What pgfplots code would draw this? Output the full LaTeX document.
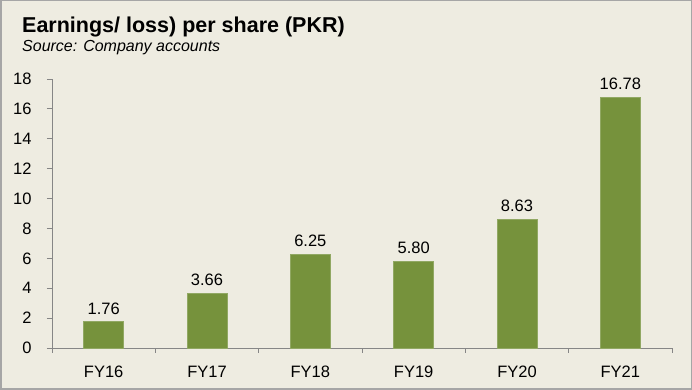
\documentclass[border=0pt]{standalone}
\usepackage{pgfplots}
\pgfplotsset{compat=1.18}
\usepackage{fontspec}
\setmainfont{Liberation Sans}
\definecolor{bg}{HTML}{EEECE1}
\definecolor{olive}{HTML}{76923C}
\definecolor{axgray}{HTML}{868686}
\begin{document}
\begin{tikzpicture}
\useasboundingbox (0pt,0pt) rectangle (692pt,390pt);
\fill[bg] (0pt,0pt) rectangle (692pt,390pt);
\draw[gray!70,line width=1.5pt] (0.75pt,0.75pt) rectangle (691.25pt,389.25pt);
\node[anchor=base west,inner sep=0,font=\fontsize{21.5}{24}\selectfont\bfseries] at (22pt,357pt) {Earnings/ loss) per share (PKR)};
\node[anchor=base west,inner sep=0,font=\fontsize{16}{18}\selectfont\itshape] at (22pt,338pt) {Source: Company accounts};
\begin{axis}[
  at={(52pt,42pt)}, anchor=south west,
  scale only axis, width=620pt, height=269pt,
  xmin=-0.5, xmax=5.5, ymin=0, ymax=18,
  axis x line*=bottom, axis y line*=left,
  axis line style={axgray, line width=0.8pt},
  ytick={0,2,...,18},
  xtick={0,...,5},
  xticklabels={FY16,FY17,FY18,FY19,FY20,FY21},
  minor xtick={-0.5,0.5,...,5.5},
  major x tick style={draw=none},
  minor tick length=5pt,
  major tick length=5pt,
  tick align=outside,
  tick style={axgray, line width=0.8pt},
  every tick label/.append style={font=\fontsize{16.5}{18}\selectfont},
  /pgf/number format/assume math mode=true,
  yticklabel style={anchor=east, xshift=-12pt},
  xticklabel style={anchor=base, yshift=-25pt},
  ybar, bar width=40pt,
  nodes near coords,
  nodes near coords style={font=\fontsize{16.5}{18}\selectfont, /pgf/number format/.cd, fixed, fixed zerofill, precision=2, assume math mode=true, /tikz/.cd, yshift=4pt},
  clip=false,
]
\addplot[fill=olive, draw=olive!80!white] coordinates {(0,1.76) (1,3.66) (2,6.25) (3,5.80) (4,8.63) (5,16.78)};
\end{axis}
\end{tikzpicture}
\end{document}
